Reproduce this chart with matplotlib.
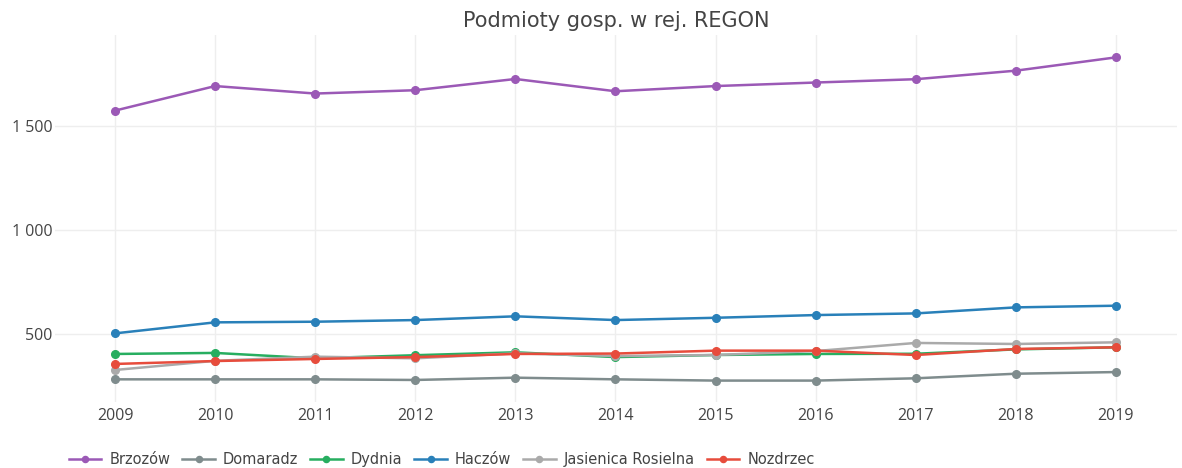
import matplotlib
matplotlib.use("Agg")
import matplotlib.pyplot as plt
from matplotlib.ticker import FuncFormatter

plt.rcParams['font.family'] = ['Open Sans', 'DejaVu Sans']

years = [2009, 2010, 2011, 2012, 2013, 2014, 2015, 2016, 2017, 2018, 2019]
brzozow = [1574, 1692, 1656, 1672, 1726, 1667, 1692, 1709, 1725, 1766, 1830]
domaradz = [282, 282, 282, 279, 290, 282, 276, 276, 287, 309, 317]
dydnia = [404, 409, 383, 398, 412, 389, 399, 404, 405, 426, 436]
haczow = [503, 556, 559, 567, 585, 567, 578, 591, 599, 628, 636]
jasienica = [327, 371, 391, 383, 407, 394, 399, 418, 457, 452, 460]
nozdrzec = [356, 370, 380, 389, 404, 406, 420, 420, 399, 428, 436]

names = ["Brzozów", "Domaradz", "Dydnia", "Haczów", "Jasienica Rosielna", "Nozdrzec"]
series = [brzozow, domaradz, dydnia, haczow, jasienica, nozdrzec]
colors = ["#9b59b6", "#7f8c8d", "#27ae60", "#2980b9", "#aaaaaa", "#e74c3c"]
yticks = [500, 1000, 1500]

fig = plt.figure(figsize=(11.82, 4.68), dpi=100)
ax = fig.add_axes([0.0465, 0.141, 0.9493, 0.784])

for name, vals, c in zip(names, series, colors):
    ax.plot(years, vals, color=c, lw=1.8, marker='o', markersize=5.5, label=name)

ax.set_xlim(2008.4, 2019.61)
ax.set_ylim(173, 1937)
ax.set_xticks(years)
ax.set_yticks(yticks)
ax.yaxis.set_major_formatter(FuncFormatter(lambda v, p: f"{int(v):,}".replace(",", " ")))
ax.grid(True, color="#eeeeee", lw=1)
ax.set_axisbelow(True)
for s in ax.spines.values():
    s.set_visible(False)
ax.tick_params(length=0, labelsize=11.5, colors="#444444")
ax.tick_params(axis='x', pad=4)
ax.tick_params(axis='y', pad=2)

fig.text(0.521, 0.955, "Podmioty gosp. w rej. REGON", ha='center', va='center',
         fontsize=15, color="#444444", family=['DejaVu Sans'])

fig.legend(loc='lower left', bbox_to_anchor=(0.047, -0.026), ncol=6, frameon=False,
           prop={'family': 'DejaVu Sans', 'size': 10.5}, labelcolor="#444444",
           handlelength=2.25, columnspacing=0.8, handletextpad=0.55, markerscale=0.8)

fig.savefig("out.png", dpi=100)
